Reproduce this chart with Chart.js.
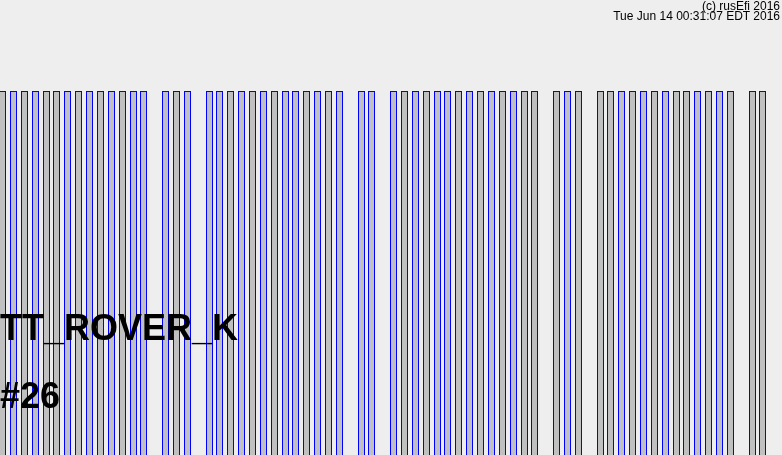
<!DOCTYPE html>
<html>
<head>
<meta charset="utf-8">
<script src="https://cdn.jsdelivr.net/npm/chart.js@4/dist/chart.umd.min.js"></script>
<style>
  html, body { margin: 0; padding: 0; background: #eeeeee; }
  #wrap { position: relative; width: 782px; height: 455px; overflow: hidden; background: #eeeeee; }
  #wrap canvas { position: absolute; left: 0; top: 0; }
  .txt { position: absolute; font-family: "Liberation Sans", Arial, sans-serif; color: #000; white-space: nowrap; }
  .small { font-size: 12px; line-height: 12px; right: 2px; }
  .big { font-size: 36px; line-height: 36px; font-weight: bold; left: 0; }
</style>
</head>
<body>
<div id="wrap">
  <canvas id="c" width="782" height="455"></canvas>
  <div class="txt small" id="copy" style="top:0px;"></div>
  <div class="txt small" id="stamp" style="top:10px;"></div>
  <div class="txt big" id="name" style="top:310px;"></div>
  <div class="txt big" id="num" style="top:378px;"></div>
</div>
<script>
// ---- data ----
// crank angle (degrees, 720 = full 4-stroke cycle) of each tooth slot
const slotAngles = [
  0, 10, 20, 30, 40, 50, 60, 70, 80, 90, 100, 110, 120, 130, 140, 150, 160, 170,
  180, 190, 200, 210, 220, 230, 240, 250, 260, 270, 280, 290, 300, 310, 320, 330, 340, 350,
  360, 370, 380, 390, 400, 410, 420, 430, 440, 450, 460, 470, 480, 490, 500, 510, 520, 530,
  540, 550, 560, 570, 580, 590, 600, 610, 620, 630, 640, 650, 660, 670, 680, 690, 700, 710
];
// 1 = tooth present, 0 = missing tooth
const toothPresent = [
  1, 1, 1, 1, 1, 1, 1, 1, 1, 1, 1, 1, 1, 1, 0, 1, 1, 1,
  0, 1, 1, 1, 1, 1, 1, 1, 1, 1, 1, 1, 1, 1, 0, 1, 1, 0,
  1, 1, 1, 1, 1, 1, 1, 1, 1, 1, 1, 1, 1, 1, 0, 1, 1, 1,
  0, 1, 1, 1, 1, 1, 1, 1, 1, 1, 1, 1, 1, 1, 0, 1, 1, 0
];
const triggerName = "TT_ROVER_K";
const triggerId = "#26";
const copyrightText = "(c) rusEfi 2016";
const timestampText = "Tue Jun 14 00:31:07 EDT 2016";

document.getElementById('copy').textContent = copyrightText;
document.getElementById('stamp').textContent = timestampText;
document.getElementById('name').textContent = triggerName;
document.getElementById('num').textContent = triggerId;

const points = [];
slotAngles.forEach((a, i) => {
  if (toothPresent[i]) points.push({ x: a, y: toothPresent[i] });
});

// snap bar edges computed by the scales to whole pixels for crisp 1px borders
const snapPlugin = {
  id: 'snap',
  afterDatasetsUpdate(chart) {
    chart.getDatasetMeta(0).data.forEach(el => {
      const w = Math.round(el.width);
      const left = Math.round(el.x - el.width / 2);
      el.width = w;
      el.x = left + w / 2;
      el.y = Math.round(el.y);
    });
  }
};

new Chart(document.getElementById('c'), {
  type: 'bar',
  data: {
    datasets: [{
      data: points,
      backgroundColor: '#c0c0c0',
      borderColor: '#0000ff',
      borderWidth: 1,
      borderSkipped: 'start',
      barPercentage: 0.65,
      categoryPercentage: 1.0
    }]
  },
  options: {
    responsive: false,
    animation: false,
    layout: { padding: 0 },
    plugins: { legend: { display: false }, tooltip: { enabled: false }, title: { display: false } },
    scales: {
      x: { type: 'linear', min: -2.5, max: 717.5, display: false, offset: false },
      y: { type: 'linear', min: 0, max: 1.25, display: false }
    }
  },
  plugins: [snapPlugin]
});
</script>
</body>
</html>
